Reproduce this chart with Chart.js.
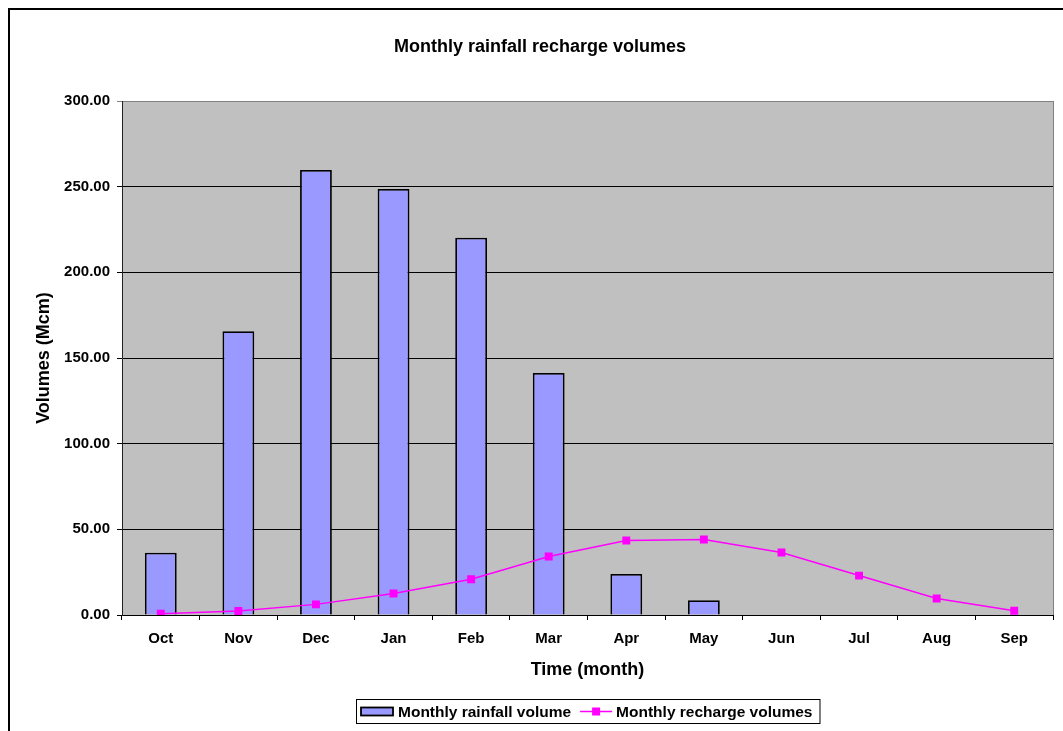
<!DOCTYPE html>
<html>
<head>
<meta charset="utf-8">
<script src="https://cdn.jsdelivr.net/npm/chart.js@4/dist/chart.umd.min.js"></script>
<style>
  html, body { margin: 0; padding: 0; background: #fff; }
  canvas { display: block; }
</style>
</head>
<body>
<canvas id="chart" width="1063" height="731"></canvas>
<script>
// Months of the hydrological year
const months = ['Oct', 'Nov', 'Dec', 'Jan', 'Feb', 'Mar', 'Apr', 'May', 'Jun', 'Jul', 'Aug', 'Sep'];
// Monthly rainfall volume (Mcm)
const rainfallVolume = [36.3, 165.6, 259.7, 248.6, 220.2, 141.3, 24.0, 8.6, null, null, null, null];
// Monthly recharge volume (Mcm)
const rechargeVolume = [0.8, 2.3, 6.2, 12.5, 20.9, 34.1, 43.5, 44.1, 36.5, 23.0, 9.6, 2.5];
// Y axis range and step
const yMin = 0, yMax = 300, yStep = 50;

const chartTitle = 'Monthly rainfall recharge volumes';
const rainfallLabel = 'Monthly rainfall volume';
const rechargeLabel = 'Monthly recharge volumes';

const FONT = '"Liberation Sans", Arial, sans-serif';
const BAR_FILL = '#9999FF';
const LINE_COLOR = '#FF00FF';
const PLOT_BG = '#C0C0C0';

// Frame, plot background, title and legend drawn around the chart area
const decorations = {
  id: 'decorations',
  beforeDraw(chart) {
    const { ctx, chartArea: a } = chart;
    ctx.save();
    ctx.fillStyle = '#fff';
    ctx.fillRect(0, 0, chart.width, chart.height);
    // outer frame
    ctx.strokeStyle = '#000';
    ctx.lineWidth = 2;
    ctx.strokeRect(9, 9, chart.width + 20, chart.height + 20);
    // plot background
    ctx.fillStyle = PLOT_BG;
    ctx.fillRect(a.left, a.top, a.right - a.left, a.bottom - a.top);
    ctx.restore();
  },
  beforeDatasetsDraw(chart) {
    const { ctx, chartArea: a } = chart;
    ctx.save();
    ctx.strokeStyle = '#808080';
    ctx.lineWidth = 1;
    ctx.beginPath();
    ctx.moveTo(Math.round(a.right) + 0.5, a.top);
    ctx.lineTo(Math.round(a.right) + 0.5, a.bottom);
    ctx.stroke();
    ctx.restore();
  },
  afterDraw(chart) {
    const { ctx, chartArea: a } = chart;
    ctx.save();
    // title
    ctx.fillStyle = '#000';
    ctx.font = 'bold 18px ' + FONT;
    ctx.textAlign = 'center';
    ctx.textBaseline = 'alphabetic';
    ctx.fillText(chartTitle, 540, 52);

    // legend
    ctx.font = 'bold 15.5px ' + FONT;
    ctx.textAlign = 'left';
    const w1 = ctx.measureText(rainfallLabel).width;
    const w2 = ctx.measureText(rechargeLabel).width;
    const boxW = 5 + 32 + 5 + w1 + 9 + 32 + 4 + w2 + 7;
    const cx = (a.left + a.right) / 2;
    const bx = Math.round(cx - boxW / 2);
    const by = 699, bh = 24;
    ctx.fillStyle = '#fff';
    ctx.fillRect(bx, by, boxW, bh);
    ctx.strokeStyle = '#000';
    ctx.lineWidth = 1;
    ctx.strokeRect(bx + 0.5, by + 0.5, boxW, bh);

    let x = bx + 5;
    const midY = by + 12.5;
    ctx.fillStyle = BAR_FILL;
    ctx.fillRect(x, midY - 4, 32, 8);
    ctx.strokeStyle = '#000';
    ctx.lineWidth = 1.8;
    ctx.strokeRect(x, midY - 4, 32, 8);
    x += 37;
    ctx.fillStyle = '#000';
    ctx.fillText(rainfallLabel, x, by + 18);
    x += w1 + 9;
    ctx.strokeStyle = LINE_COLOR;
    ctx.lineWidth = 1.5;
    ctx.beginPath();
    ctx.moveTo(x, midY);
    ctx.lineTo(x + 32, midY);
    ctx.stroke();
    ctx.fillStyle = LINE_COLOR;
    ctx.fillRect(x + 16 - 4, midY - 4, 8, 8);
    x += 36;
    ctx.fillStyle = '#000';
    ctx.fillText(rechargeLabel, x, by + 18);
    ctx.restore();
  }
};

const tickFont = { family: FONT, size: 15, weight: 'bold' };
const titleFont = { family: FONT, size: 18, weight: 'bold' };

new Chart(document.getElementById('chart'), {
  type: 'bar',
  data: {
    labels: months,
    datasets: [
      {
        type: 'line',
        label: rechargeLabel,
        data: rechargeVolume,
        borderColor: LINE_COLOR,
        backgroundColor: LINE_COLOR,
        borderWidth: 1.5,
        pointStyle: 'rect',
        pointRadius: 5.6,
        pointBorderWidth: 0,
        pointBackgroundColor: LINE_COLOR,
        tension: 0,
        fill: false,
        order: 0
      },
      {
        type: 'bar',
        label: rainfallLabel,
        data: rainfallVolume,
        backgroundColor: BAR_FILL,
        borderColor: '#000',
        borderWidth: 1.8,
        categoryPercentage: 1,
        barPercentage: 0.41,
        order: 1
      }
    ]
  },
  options: {
    responsive: false,
    animation: false,
    devicePixelRatio: 1,
    layout: { padding: { top: 101, right: 10, left: 0, bottom: 0 } },
    plugins: {
      legend: { display: false },
      title: { display: false },
      tooltip: { enabled: false }
    },
    scales: {
      x: {
        offset: true,
        grid: { offset: true, drawOnChartArea: false, drawTicks: true, tickLength: 5, color: '#000' },
        border: { color: '#000', width: 1 },
        ticks: { font: tickFont, color: '#000', padding: 10, maxRotation: 0, autoSkip: false },
        title: { display: true, text: 'Time (month)', font: titleFont, color: '#000', padding: { top: 0, bottom: 50 } },
        afterFit(scale) { scale.height = 116; }
      },
      y: {
        min: yMin,
        max: yMax,
        ticks: {
          stepSize: yStep,
          font: tickFont,
          color: '#000',
          padding: 7,
          callback: (v) => Number(v).toFixed(2)
        },
        grid: {
          color: (c) => (c.tick && c.tick.value === yMax ? '#808080' : '#000'),
          lineWidth: 1,
          tickLength: 5
        },
        border: { color: '#222', width: 1 },
        title: { display: true, text: 'Volumes (Mcm)', font: titleFont, color: '#000', padding: { top: 33, bottom: 0 } },
        afterFit(scale) { scale.width = 122; }
      }
    }
  },
  plugins: [decorations]
});
</script>
</body>
</html>
